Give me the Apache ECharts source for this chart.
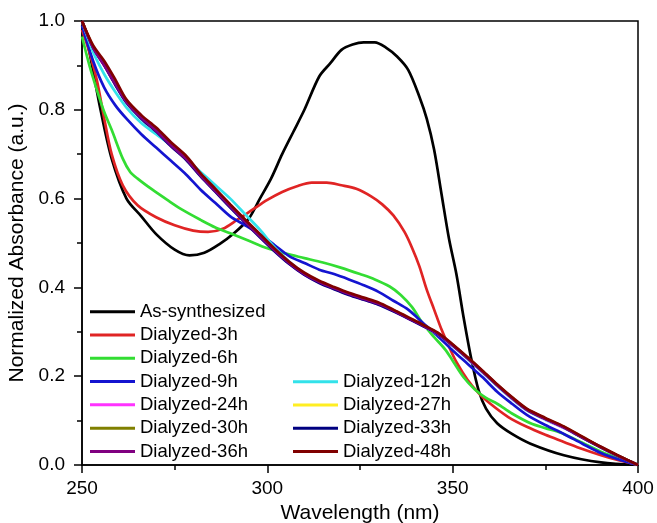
<!DOCTYPE html>
<html>
	<head>
		<meta charset="utf-8">
		<title>Normalized absorbance</title>
		<script src="https://cdn.jsdelivr.net/npm/echarts@6/dist/echarts.min.js"></script>
		<style>
			html, body { margin: 0; padding: 0; background: #fff; }
			#chart { width: 657px; height: 523px; }
		</style>
	</head>
	<body>
		<div id="chart"></div>
		<script>
			// wavelength (nm) / normalized absorbance
			var wlAs = [250, 252, 255, 258, 262, 266, 270, 275, 279, 283, 287, 291, 295, 298, 301, 304, 307, 310, 314, 317, 320, 323, 326, 329, 332, 335, 338, 341, 343, 345, 347, 349, 351, 353, 355, 357, 359, 362, 366, 371, 380, 390, 400];
			var absAs = [1.0, 0.93, 0.80, 0.69, 0.60, 0.56, 0.52, 0.485, 0.472, 0.478, 0.497, 0.522, 0.555, 0.60, 0.645, 0.70, 0.75, 0.80, 0.875, 0.905, 0.935, 0.947, 0.952, 0.952, 0.94, 0.92, 0.89, 0.83, 0.78, 0.71, 0.61, 0.51, 0.43, 0.33, 0.24, 0.168, 0.127, 0.094, 0.07, 0.048, 0.022, 0.006, 0.0];

			var wl3h = [250, 252, 254, 256, 258, 261, 265, 270, 275, 280, 284, 288, 292, 296, 300, 304, 308, 312, 316, 320, 324, 328, 331, 334, 337, 339, 341, 343, 345, 347, 349, 351, 354, 357, 360, 365, 370, 375, 380, 385, 390, 395, 400];
			var abs3h = [0.98, 0.93, 0.867, 0.78, 0.70, 0.63, 0.585, 0.558, 0.54, 0.528, 0.525, 0.532, 0.553, 0.575, 0.597, 0.615, 0.628, 0.636, 0.636, 0.63, 0.622, 0.605, 0.587, 0.562, 0.525, 0.49, 0.448, 0.395, 0.35, 0.305, 0.267, 0.232, 0.192, 0.162, 0.139, 0.108, 0.086, 0.068, 0.052, 0.036, 0.022, 0.01, 0.0];

			var wl6h = [250, 252, 254, 256, 258, 261, 263, 265, 269, 273, 277, 282, 286, 290, 295, 300, 305, 310, 315, 320, 325, 329, 333, 336, 339, 342, 345, 348, 350, 353, 356, 359, 362, 366, 371, 375, 379, 385, 390, 395, 400];
			var abs6h = [0.965, 0.9, 0.845, 0.795, 0.755, 0.69, 0.66, 0.645, 0.62, 0.597, 0.575, 0.552, 0.535, 0.522, 0.505, 0.488, 0.476, 0.466, 0.456, 0.444, 0.43, 0.418, 0.402, 0.383, 0.356, 0.318, 0.288, 0.26, 0.235, 0.197, 0.17, 0.151, 0.138, 0.116, 0.094, 0.083, 0.073, 0.05, 0.03, 0.014, 0.0];

			var wl9h = [250, 253, 256, 259, 262, 266, 270, 274, 278, 282, 286, 290, 294, 298, 302, 306, 310, 314, 318, 322, 326, 330, 334, 338, 342, 346, 350, 354, 358, 362, 366, 370, 375, 380, 385, 390, 395, 400];
			var abs9h = [0.99, 0.91, 0.85, 0.81, 0.78, 0.745, 0.715, 0.685, 0.655, 0.62, 0.59, 0.56, 0.54, 0.52, 0.495, 0.47, 0.455, 0.44, 0.43, 0.418, 0.405, 0.39, 0.37, 0.35, 0.32, 0.29, 0.258, 0.228, 0.198, 0.165, 0.138, 0.113, 0.09, 0.07, 0.048, 0.027, 0.012, 0.0];

			var wl12h = [250, 253, 256, 259, 262, 266, 270, 274, 278, 282, 286, 290, 294, 298, 302, 306, 310, 314, 318, 322, 326, 330, 334, 338, 342, 346, 350, 354, 358, 362, 366, 370, 375, 380, 385, 390, 395, 400];
			var abs12h = [1.0, 0.93, 0.88, 0.84, 0.805, 0.77, 0.745, 0.72, 0.69, 0.66, 0.63, 0.6, 0.565, 0.53, 0.49, 0.457, 0.431, 0.413, 0.399, 0.386, 0.375, 0.364, 0.348, 0.331, 0.313, 0.295, 0.268, 0.239, 0.209, 0.178, 0.149, 0.123, 0.102, 0.083, 0.061, 0.039, 0.019, 0.0];

			// the later samples share one wavelength grid
			var wlLate = [250, 253, 256, 259, 262, 266, 270, 274, 278, 282, 286, 290, 294, 298, 302, 306, 310, 314, 318, 322, 326, 330, 334, 338, 342, 346, 350, 354, 358, 362, 366, 370, 375, 380, 385, 390, 395, 400];
			var abs24h = [1.0, 0.94, 0.9, 0.857, 0.817, 0.781, 0.752, 0.719, 0.689, 0.651, 0.616, 0.581, 0.547, 0.514, 0.482, 0.453, 0.429, 0.411, 0.397, 0.384, 0.373, 0.362, 0.347, 0.33, 0.313, 0.295, 0.269, 0.24, 0.21, 0.179, 0.15, 0.124, 0.103, 0.084, 0.062, 0.04, 0.019, 0.0];
			var abs27h = [1.0, 0.943, 0.905, 0.862, 0.822, 0.785, 0.757, 0.724, 0.694, 0.655, 0.62, 0.585, 0.551, 0.518, 0.485, 0.455, 0.431, 0.413, 0.399, 0.386, 0.375, 0.364, 0.349, 0.332, 0.315, 0.297, 0.271, 0.242, 0.212, 0.181, 0.152, 0.126, 0.105, 0.086, 0.063, 0.04, 0.02, 0.0];
			var abs30h = [1.0, 0.941, 0.902, 0.859, 0.819, 0.783, 0.754, 0.721, 0.691, 0.653, 0.618, 0.583, 0.549, 0.516, 0.484, 0.454, 0.43, 0.412, 0.398, 0.385, 0.374, 0.363, 0.348, 0.331, 0.314, 0.296, 0.27, 0.241, 0.211, 0.18, 0.151, 0.125, 0.104, 0.085, 0.062, 0.04, 0.019, 0.0];
			var abs33h = [1.0, 0.94, 0.9, 0.856, 0.816, 0.78, 0.751, 0.718, 0.688, 0.65, 0.615, 0.58, 0.546, 0.513, 0.481, 0.452, 0.428, 0.41, 0.396, 0.383, 0.372, 0.361, 0.346, 0.33, 0.313, 0.295, 0.27, 0.241, 0.211, 0.18, 0.151, 0.125, 0.104, 0.085, 0.062, 0.04, 0.019, 0.0];
			var abs36h = [1.0, 0.94, 0.9, 0.858, 0.818, 0.782, 0.753, 0.72, 0.69, 0.652, 0.617, 0.582, 0.548, 0.515, 0.483, 0.454, 0.43, 0.412, 0.398, 0.385, 0.374, 0.363, 0.348, 0.331, 0.314, 0.296, 0.27, 0.241, 0.211, 0.18, 0.151, 0.125, 0.104, 0.085, 0.062, 0.04, 0.019, 0.0];
			var abs48h = [1.0, 0.945, 0.91, 0.868, 0.823, 0.788, 0.76, 0.727, 0.697, 0.657, 0.622, 0.587, 0.553, 0.52, 0.487, 0.457, 0.433, 0.415, 0.401, 0.388, 0.377, 0.366, 0.35, 0.333, 0.316, 0.298, 0.272, 0.243, 0.213, 0.182, 0.153, 0.127, 0.106, 0.087, 0.064, 0.041, 0.02, 0.0];

			var xTicks = [250, 300, 350, 400];
			var yTicks = [0.0, 0.2, 0.4, 0.6, 0.8, 1.0];

			var names = ['As-synthesized', 'Dialyzed-3h', 'Dialyzed-6h', 'Dialyzed-9h', 'Dialyzed-12h', 'Dialyzed-24h',
				'Dialyzed-27h', 'Dialyzed-30h', 'Dialyzed-33h', 'Dialyzed-36h', 'Dialyzed-48h'];
			var colors = ['#000000', '#e02424', '#33dd33', '#1414d0', '#33e2ea', '#ff33ff',
				'#ffee22', '#808000', '#000080', '#800080', '#800000'];
			var wls = [wlAs, wl3h, wl6h, wl9h, wl12h, wlLate, wlLate, wlLate, wlLate, wlLate, wlLate];
			var absList = [absAs, abs3h, abs6h, abs9h, abs12h, abs24h, abs27h, abs30h, abs33h, abs36h, abs48h];

			function pairs(xs, ys) {
				var out = [];
				for (var i = 0; i < xs.length; i++) out.push([xs[i], ys[i]]);
				return out;
			}

			var font = 'Liberation Sans, Arial, sans-serif';
			var series = [];
			for (var k = 0; k < names.length; k++) {
				series.push({
					name: names[k],
					type: 'line',
					data: pairs(wls[k], absList[k]),
					symbol: 'none',
					smooth: 0.3,
					lineStyle: { color: colors[k], width: 2.7 },
					itemStyle: { color: colors[k] },
					z: 2 + k
				});
			}

			var legendBase = {
				orient: 'vertical',
				icon: 'rect',
				itemWidth: 45,
				itemHeight: 3,
				itemGap: 0,
				padding: 0,
				textStyle: { fontFamily: font, fontSize: 18.5, color: '#000', lineHeight: 23.3 }
			};

			var myChart = echarts.init(document.getElementById('chart'), null, { renderer: 'canvas' });
			var option = {
				animation: false,
				backgroundColor: '#ffffff',
				grid: {
					left: 82, right: 19, top: 21, bottom: 58,
					outerBoundsMode: 'none',
					containLabel: false,
					show: true, borderColor: '#000', borderWidth: 1.5, backgroundColor: 'transparent'
				},
				legend: [
					Object.assign({}, legendBase, {
						left: 90, top: 300,
						data: ['As-synthesized', 'Dialyzed-3h', 'Dialyzed-6h', 'Dialyzed-9h', 'Dialyzed-24h', 'Dialyzed-30h', 'Dialyzed-36h']
					}),
					Object.assign({}, legendBase, {
						left: 293, top: 370,
						data: ['Dialyzed-12h', 'Dialyzed-27h', 'Dialyzed-33h', 'Dialyzed-48h']
					})
				],
				xAxis: {
					type: 'value',
					min: xTicks[0], max: xTicks[xTicks.length - 1], interval: 50,
					name: 'Wavelength (nm)',
					nameLocation: 'middle',
					nameGap: 37,
					nameTextStyle: { fontFamily: font, fontSize: 21, color: '#000' },
					axisLine: { lineStyle: { color: '#000', width: 1.5 } },
					axisTick: { length: 8, lineStyle: { color: '#000', width: 1.5 } },
					minorTick: { show: true, splitNumber: 2, length: 5, lineStyle: { color: '#000', width: 1.5 } },
					axisLabel: { margin: 14, fontFamily: font, fontSize: 19, color: '#000' },
					splitLine: { show: false }
				},
				yAxis: {
					type: 'value',
					min: yTicks[0], max: yTicks[yTicks.length - 1], interval: 0.2,
					name: 'Normalized Absorbance (a.u.)',
					nameLocation: 'middle',
					nameGap: 47,
					nameTextStyle: { fontFamily: font, fontSize: 21, color: '#000' },
					axisLine: { lineStyle: { color: '#000', width: 1.5 } },
					axisTick: { length: 8, lineStyle: { color: '#000', width: 1.5 } },
					minorTick: { show: true, splitNumber: 2, length: 5, lineStyle: { color: '#000', width: 1.5 } },
					axisLabel: {
						margin: 17, fontFamily: font, fontSize: 19, color: '#000',
						formatter: function(v) { return v.toFixed(1); }
					},
					splitLine: { show: false }
				},
				series: series
			};

			option && myChart.setOption(option);
		</script>
	</body>
</html>
